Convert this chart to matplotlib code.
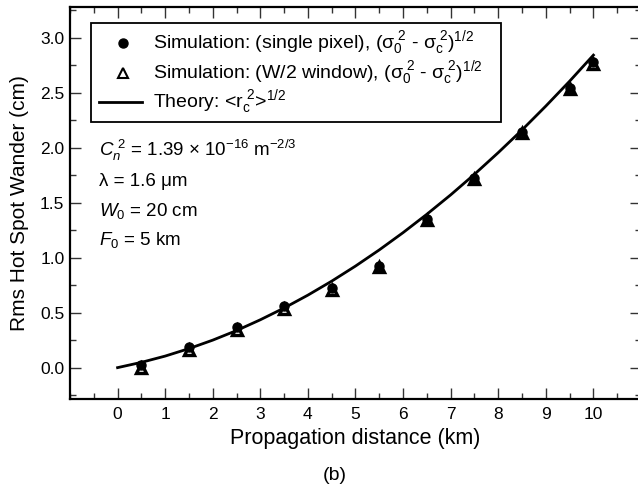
import matplotlib

matplotlib.use("Agg")
import matplotlib.pyplot as plt
from matplotlib.ticker import MultipleLocator, FormatStrFormatter

plt.rcParams["font.family"] = ["Liberation Sans", "DejaVu Sans"]
plt.rcParams["mathtext.fontset"] = "custom"
plt.rcParams["mathtext.rm"] = "Liberation Sans"
plt.rcParams["mathtext.it"] = "Liberation Sans:italic"
plt.rcParams["mathtext.sf"] = "Liberation Sans"

# Simulated hot spot wander vs propagation distance
distance_km = [0.5, 1.5, 2.5, 3.5, 4.5, 5.5, 6.5, 7.5, 8.5, 9.5, 10.0]
single_pixel = [0.02, 0.19, 0.37, 0.56, 0.72, 0.92, 1.35, 1.72, 2.14, 2.54, 2.78]
half_window = [0.00, 0.16, 0.34, 0.53, 0.71, 0.91, 1.34, 1.71, 2.13, 2.53, 2.76]

# Theoretical rms centroid wander
theory_km = [0.0, 0.5, 1.0, 1.5, 2.0, 2.5, 3.0, 3.5, 4.0, 4.5, 5.0,
             5.5, 6.0, 6.5, 7.0, 7.5, 8.0, 8.5, 9.0, 9.5, 10.0]
theory_cm = [0.00, 0.048, 0.105, 0.173, 0.25, 0.337, 0.435, 0.542, 0.659, 0.786, 0.923,
             1.07, 1.227, 1.394, 1.57, 1.757, 1.954, 2.16, 2.377, 2.603, 2.84]

fig = plt.figure(figsize=(6.38, 4.97), dpi=100)
ax = fig.add_axes([70 / 638, 98 / 497, 571 / 638, 392.3 / 497])

ax.plot(theory_km, theory_cm, color="black", lw=2.0, zorder=2,
        solid_joinstyle="round")
ax.plot(distance_km, single_pixel, "o", color="black", ms=6.5, zorder=3)
ax.plot(distance_km, half_window, "^", mfc="none", mec="black", mew=2.4,
        ms=7.0, zorder=4)

ax.set_xlim(-1, 11)
ax.set_ylim(-0.285, 3.28)
ax.xaxis.set_major_locator(MultipleLocator(1))
ax.xaxis.set_minor_locator(MultipleLocator(0.5))
ax.yaxis.set_major_locator(MultipleLocator(0.5))
ax.yaxis.set_minor_locator(MultipleLocator(0.25))
ax.yaxis.set_major_formatter(FormatStrFormatter("%.1f"))
ax.set_xticks(range(0, 11))

ax.tick_params(which="both", direction="in", top=True, right=True,
               labelsize=12.5, color="#333333")
ax.tick_params(which="major", length=8, width=1.0)
ax.tick_params(axis="x", which="major", pad=6)
ax.tick_params(axis="y", which="major", pad=4)
ax.tick_params(which="minor", length=4.5, width=1.0)
for s in ax.spines.values():
    s.set_linewidth(1.6)

ax.set_xlabel("Propagation distance (km)", fontsize=15.5, labelpad=4)
ax.set_ylabel("Rms Hot Spot Wander (cm)", fontsize=15, labelpad=8)

# Legend box drawn by hand so the rows sit as in the figure
box = plt.Rectangle((91, 497 - 122), 410, 99, transform=None, fill=False,
                    lw=1.3, ec="black", zorder=5)
fig.add_artist(box)
fig.lines.append(plt.Line2D([123], [497 - 43], transform=None, marker="o",
                            color="black", ms=6.5))
fig.lines.append(plt.Line2D([123], [497 - 73], transform=None, marker="^",
                            mfc="none", mec="black", mew=1.5, ms=7.5))
fig.lines.append(plt.Line2D([99, 142], [497 - 102, 497 - 102], transform=None,
                            color="black", lw=2.0))
sig = r"($\mathrm{\sigma}_0^{\ 2}$ - $\mathrm{\sigma}_{\mathrm{c}}^{\ 2}$)$^{1/2}$"
legend_rows = [
    (43, "Simulation: (single pixel), " + sig),
    (73, "Simulation: (W/2 window), " + sig),
    (102, r"Theory: <r$_{\mathrm{c}}^{\ 2}$>$^{1/2}$"),
]
for yy, txt in legend_rows:
    fig.text(153 / 638, (497 - yy) / 497, txt, fontsize=14, va="center")

params = [
    (150, r"$C_n^{\ 2}$ = 1.39 $\times$ 10$^{-16}$ m$^{-2/3}$"),
    (182, "λ = 1.6 μm"),
    (211, r"$W_0$ = 20 cm"),
    (240, r"$F_0$ = 5 km"),
]
for yy, txt in params:
    fig.text(99 / 638, (497 - yy) / 497, txt, fontsize=13.5, va="center")

fig.text(335 / 638, (497 - 475) / 497, "(b)", fontsize=14, ha="center",
         va="center")

fig.savefig("out.png", dpi=100)
